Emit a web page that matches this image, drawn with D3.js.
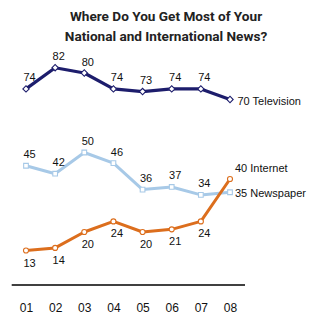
<!DOCTYPE html>
<html><head><meta charset="utf-8">
<script src="https://cdnjs.cloudflare.com/ajax/libs/d3/7.8.5/d3.min.js"></script>
<style>
html,body{margin:0;padding:0;background:#fff;}
svg{display:block;}
</style></head>
<body>
<script>
const years = ["01","02","03","04","05","06","07","08"];
const television = [74,82,80,74,73,74,74,70];
const newspaper = [45,42,50,46,36,37,34,35];
const internet = [13,14,20,24,20,21,24,40];
const seriesNames = ["Television","Newspaper","Internet"];
const titleLines = ["Where Do You Get Most of Your","National and International News?"];

const W = 331, H = 326;
const svg = d3.select("body").append("svg").attr("width", W).attr("height", H);

const x = d3.scalePoint().domain(years).range([26, 230]);
const y = d3.scaleLinear().domain([0, 100]).range([285, 20]);

// title
svg.selectAll("text.title").data(titleLines).enter().append("text")
  .attr("class","title")
  .attr("x", 166).attr("y", (d,i) => 20.5 + i*20)
  .attr("text-anchor","middle")
  .style("font-family","Roboto,'DejaVu Sans',sans-serif")
  .style("font-weight","bold").style("font-size","13.6px").style("fill","#222")
  .text(d => d);

// axis
const axis = d3.axisBottom(x).tickSize(0).tickPadding(0);
const ag = svg.append("g").attr("transform","translate(0,285)").call(axis);
ag.select(".domain").attr("d","M11.7,0H245").attr("stroke","#000").attr("stroke-width",1.3);
ag.selectAll(".tick text").attr("y", 26.5).attr("dy", null)
  .style("font-family","'Liberation Sans',Arial,sans-serif").style("font-size","12px").style("fill","#111");

const line = d3.line().x((d,i) => x(years[i])).y(d => y(d));
const lf = "'Liberation Sans',Arial,sans-serif";

function drawSeries(vals, color, width, marker, labelDy, name, endDx, endDy) {
  svg.append("path").datum(vals).attr("d", line)
    .attr("fill","none").attr("stroke",color).attr("stroke-width",width)
    .attr("stroke-linejoin","round");
  const g = svg.append("g");
  const sym = d3.symbol().type(marker.type).size(marker.size);
  g.selectAll("path").data(vals).enter().append("path")
    .attr("d", sym)
    .attr("transform",(d,i)=>`translate(${x(years[i])},${y(d)})` + (marker.rotate?" rotate(45)":""))
    .attr("fill","#fff").attr("stroke",color).attr("stroke-width",1.1);
  svg.append("g").selectAll("text").data(vals.slice(0,-1)).enter().append("text")
    .attr("x",(d,i)=>x(years[i])+3.5).attr("y",d=>y(d)+labelDy)
    .attr("text-anchor","middle")
    .style("font-family",lf).style("font-size","11px").style("fill","#111")
    .text(d=>d);
  const last = vals.length-1;
  svg.append("text").attr("x", x(years[last])+endDx).attr("y", y(vals[last])+endDy)
    .style("font-family",lf).style("font-size","11px").style("fill","#111")
    .text(vals[last] + " " + name);
}

drawSeries(television, "#1d1d6c", 3.2, {type:d3.symbolSquare,size:20,rotate:true}, -7.5, seriesNames[0], 7.5, 5);
drawSeries(newspaper, "#a7c9e7", 3, {type:d3.symbolSquare,size:22}, -7.5, seriesNames[1], 5, 4.5);
drawSeries(internet, "#dc6e1d", 3, {type:d3.symbolCircle,size:20}, 16, seriesNames[2], 5, -7.5);
</script>
</body></html>
